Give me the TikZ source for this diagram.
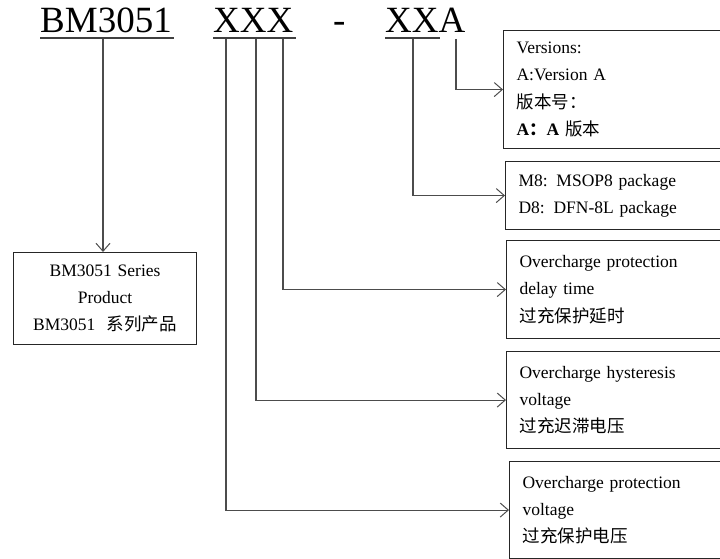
\documentclass[tikz,border=0pt]{standalone}
\usepackage{fontspec}
\setmainfont{Liberation Serif}
\newfontfamily\cjk{Noto Sans CJK SC}
\usetikzlibrary{arrows.meta}
\begin{document}
\begin{tikzpicture}[x=1pt,y=-1pt,
  title/.style={anchor=base west,inner sep=0pt,font=\fontsize{37}{37}\selectfont},
  uline/.style={line width=1.2pt,draw=black!75},
  conn/.style={draw=black!70,line width=1.1pt,-{Straight Barb[length=8pt,width=14pt,line width=1pt]}},
  infobox/.style={draw=black!85,line width=1.1pt,rectangle,anchor=north west,
     inner xsep=13pt,inner ysep=0pt,text width=194pt,align=left,
     font=\fontsize{17.5}{27.3}\selectfont},
  prodbox/.style={draw=black!85,line width=1.1pt,rectangle,anchor=north west,
     inner sep=0pt,minimum width=183pt,text width=183pt,align=center,
     font=\fontsize{17.5}{27.3}\selectfont}
]
\useasboundingbox (0,0) rectangle (720,559);
\clip (0,0) rectangle (720,559);
% title
\node[title] (tbm) at (40,33) {BM3051};
\node[title] (txxx) at (213,33) {XXX};
\node[title] (tdash) at (333,33) {-};
\node[title] (txxa) at (385,33) {XXA};
\draw[uline] (40,38) -- (174,38);
\draw[uline] (213,38) -- (296,38);
\draw[uline] (385,38) -- (440,38);
% coordinates for line starts
\coordinate (sbm) at (103,39);
\coordinate (s1) at (226,39);
\coordinate (s2) at (256,39);
\coordinate (s3) at (283,39);
\coordinate (s4) at (413,39);
\coordinate (s5) at (456,39);
% boxes
\node[prodbox,minimum height=92pt] (prod) at (13,252)
  {BM3051 Series\\Product\\BM3051\ \ {\cjk 系列产品}};
\node[infobox,minimum height=118pt] (b1) at (503,30)
  {Versions:\\A:Version A\\{\cjk 版本号：}\\\textbf{A}{\cjk\bfseries ：}\textbf{A} {\cjk 版本}};
\node[infobox,minimum height=68pt] (b2) at (505,161)
  {M8: MSOP8 package\\D8: DFN-8L package};
\node[infobox,minimum height=98pt] (b3) at (506,240)
  {Overcharge protection\\delay time\\{\cjk 过充保护延时}};
\node[infobox,minimum height=97pt] (b4) at (506,351)
  {Overcharge hysteresis\\voltage\\{\cjk 过充迟滞电压}};
\node[infobox,minimum height=97pt] (b5) at (509,461)
  {Overcharge protection\\voltage\\{\cjk 过充保护电压}};
% connectors
\draw[conn] (sbm) -- (sbm |- prod.north);
\draw[conn] (s5) |- (b1.west);
\draw[conn] (s4) |- (b2.west);
\draw[conn] (s3) |- (b3.west);
\draw[conn] (s2) |- (b4.west);
\draw[conn] (s1) |- (b5.west);
\end{tikzpicture}
\end{document}
